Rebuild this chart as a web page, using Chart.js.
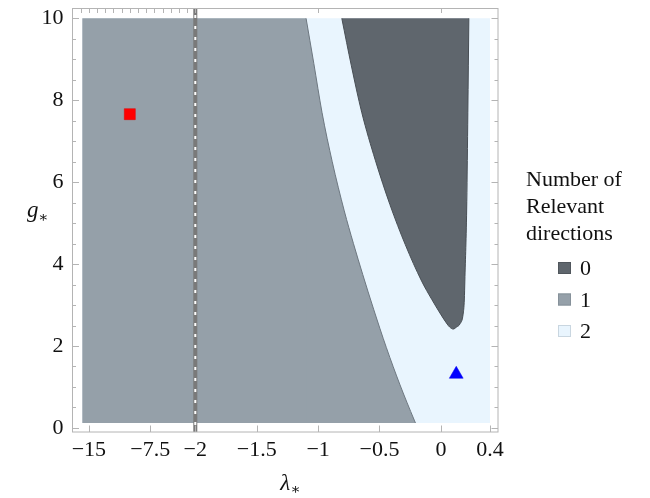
<!DOCTYPE html>
<html lang="en">
<head>
<meta charset="UTF-8">
<title>Number of relevant directions</title>
<script src="https://cdn.jsdelivr.net/npm/chart.js"></script>
<style>
  html, body { margin: 0; padding: 0; background: #fff; }
  #wrap { width: 650px; height: 498px; }
</style>
</head>
<body>
<div id="wrap"><canvas id="phaseChart" width="650" height="498"></canvas></div>
<script>
// tick labels
const lambdaTicks = [-15, -7.5, -2, -1.5, -1, -0.5, 0, 0.4];
const lambdaTopTicks = [-16, -15, -14, -13, -12, -11, -10, -9, -8, -7, -6, -5, -4, -3, -2, -1, 0];
const gTicks = [0, 2, 4, 6, 8, 10];

// extent of the computed region
const lambdaMin = -15.8, lambdaMax = 0.4;
const gMin = 0.12, gMax = 10;

// border between 1 and 2 relevant directions (top to bottom)
const border12Lambda = [-1.098, -1.035, -0.968, -0.885, -0.787, -0.712, -0.637, -0.548, -0.444, -0.333, -0.217, -0.207];
const border12G      = [10.0, 8.9, 7.7, 6.5, 5.3, 4.5, 3.75, 2.9, 1.96, 1.05, 0.19, 0.12];

// border of the region with 0 relevant directions (left branch down, right branch up)
const border0Lambda = [-0.807, -0.729, -0.645, -0.534, -0.415, -0.290, -0.157, -0.075, -0.002, 0.051, 0.0715, 0.100, 0.128, 0.1545, 0.181, 0.191, 0.195, 0.211, 0.2195, 0.2276];
const border0G      = [10.0, 8.84, 7.708, 6.536, 5.452, 4.475, 3.585, 3.141, 2.777, 2.535, 2.462, 2.413, 2.464, 2.535, 2.777, 3.148, 3.585, 5.525, 7.706, 10.0];

// fixed points
const squareLambda = [-10], squareG = [7.66];
const triangleLambda = [0.125], triangleG = [1.31];

// vertical line
const lineLambda = -2;

const legendTitle = ['Number of', 'Relevant', 'directions'];
const legendLabels = ['0', '1', '2'];

const colDark = '#5f666d', colMid = '#95a0a9', colLight = '#e9f5fe';
const serif = "'Liberation Serif', 'DejaVu Serif', serif";

// lambda < -2 is squeezed 15 times
function toAxis(l) { return l < -2 ? -2 + (l + 2) / 15 : l; }
function pts(ls, gs) { return ls.map((l, i) => ({x: toAxis(l), y: gs[i]})); }
function fmt(v) { return String(v).replace('-', '\u2212'); }

const lightRegion = pts([lambdaMin, lambdaMax, lambdaMax, lambdaMin], [gMin, gMin, gMax, gMax]);
// part of region "1" left of the border curve (the rest is filled under the curve)
const midBlock = pts([lambdaMin, lambdaMin, border12Lambda[0], -0.95], [gMin, gMax, gMax, gMin]);
const border12 = pts(border12Lambda, border12G);
const darkRegion = pts(border0Lambda, border0G);

const framePlugin = {
  id: 'frame',
  afterDraw(chart) {
    const {ctx, chartArea: a, scales: {x, y}} = chart;
    ctx.save();
    ctx.strokeStyle = '#b4b4b4';
    ctx.lineWidth = 1;
    ctx.strokeRect(a.left, a.top, a.right - a.left, a.bottom - a.top);
    ctx.beginPath();
    lambdaTicks.forEach(l => {
      const px = Math.round(x.getPixelForValue(toAxis(l))) + 0.5;
      ctx.moveTo(px, a.bottom); ctx.lineTo(px, a.bottom - 6.5);
    });
    lambdaTopTicks.forEach(l => {
      const px = Math.round(x.getPixelForValue(toAxis(l))) + 0.5;
      ctx.moveTo(px, a.top); ctx.lineTo(px, a.top + 4.5);
    });
    for (let g = 0; g <= 10; g += 0.5) {
      const len = g % 2 === 0 ? 6.5 : 3.5;
      const py = Math.round(y.getPixelForValue(g)) + 0.5;
      ctx.moveTo(a.left, py); ctx.lineTo(a.left + len, py);
      ctx.moveTo(a.right, py); ctx.lineTo(a.right - len, py);
    }
    ctx.stroke();

    // axis titles
    ctx.fillStyle = '#111';
    ctx.textBaseline = 'alphabetic';
    ctx.font = 'italic 23px ' + serif;
    const cx = (a.left + a.right) / 2;
    ctx.textAlign = 'right';
    ctx.fillText('\u03bb', cx + 5, 490);
    ctx.font = '15px ' + serif;
    ctx.textAlign = 'left';
    ctx.fillText('\u2217', cx + 5, 494);
    ctx.font = 'italic 23px ' + serif;
    ctx.fillText('g', 27, 217);
    ctx.font = '15px ' + serif;
    ctx.fillText('\u2217', 38, 222);

    // legend
    ctx.font = '22px ' + serif;
    legendTitle.forEach((t, i) => ctx.fillText(t, 526, 186 + i * 27));
    const sw = [colDark, colMid, colLight];
    const br = ['#50565c', '#86919a', '#c9d6e0'];
    legendLabels.forEach((t, i) => {
      const cy = 268 + i * 31.5;
      ctx.fillStyle = sw[i];
      ctx.fillRect(558, cy - 6, 13, 12);
      ctx.strokeStyle = br[i];
      ctx.strokeRect(558.5, cy - 5.5, 12, 11);
      ctx.fillStyle = '#111';
      ctx.fillText(t, 580, cy + 7);
    });
    ctx.restore();
  }
};

new Chart(document.getElementById('phaseChart'), {
  type: 'line',
  data: {
    datasets: [{
      data: pts(squareLambda, squareG),
      showLine: false,
      pointStyle: 'rect',
      pointRadius: 7.8,
      pointBackgroundColor: '#ff0000',
      pointBorderColor: '#e00000',
      pointBorderWidth: 0.5,
      order: 0
    }, {
      data: pts(triangleLambda, triangleG),
      showLine: false,
      pointStyle: 'triangle',
      pointRadius: 8,
      pointBackgroundColor: '#0000ff',
      pointBorderColor: '#0000ee',
      pointBorderWidth: 0.5,
      order: 0
    }, {
      data: pts([lineLambda, lineLambda], [-0.2, 10.4]),
      borderColor: '#ffffff',
      borderWidth: 2,
      borderDash: [3, 8],
      pointRadius: 0,
      order: 1
    }, {
      data: pts([lineLambda, lineLambda], [-0.2, 10.4]),
      borderColor: '#7a7a7a',
      borderWidth: 4,
      pointRadius: 0,
      order: 2
    }, {
      data: darkRegion,
      borderColor: '#484e54',
      borderWidth: 1,
      backgroundColor: colDark,
      fill: 'shape',
      cubicInterpolationMode: 'monotone',
      pointRadius: 0,
      order: 3
    }, {
      data: border12,
      borderColor: '#6d7780',
      borderWidth: 1,
      backgroundColor: colMid,
      fill: { value: gMin },
      cubicInterpolationMode: 'monotone',
      pointRadius: 0,
      order: 4
    }, {
      data: midBlock,
      borderColor: 'rgba(0,0,0,0)',
      backgroundColor: colMid,
      fill: 'shape',
      pointRadius: 0,
      order: 5
    }, {
      data: lightRegion,
      borderColor: 'rgba(0,0,0,0)',
      backgroundColor: colLight,
      fill: 'shape',
      pointRadius: 0,
      order: 6
    }]
  },
  options: {
    responsive: false,
    animation: false,
    events: [],
    layout: { padding: { left: 0, right: 152, top: 5.5, bottom: 0 } },
    plugins: { legend: { display: false }, tooltip: { enabled: false } },
    scales: {
      x: {
        type: 'linear',
        min: -3.0,
        max: 0.465,
        grid: { display: false, drawTicks: false },
        border: { display: false },
        afterBuildTicks: s => { s.ticks = lambdaTicks.map(l => ({value: toAxis(l)})); },
        afterFit: s => { s.height = 66; s.paddingLeft = 0; s.paddingRight = 0; },
        ticks: {
          autoSkip: false,
          maxRotation: 0,
          minRotation: 0,
          padding: 5,
          color: '#111',
          font: { family: serif, size: 22 },
          callback: (v, i) => fmt(lambdaTicks[i])
        }
      },
      y: {
        type: 'linear',
        min: -0.1,
        max: 10.24,
        grid: { display: false, drawTicks: false },
        border: { display: false },
        afterBuildTicks: s => { s.ticks = gTicks.map(g => ({value: g})); },
        afterFit: s => { s.width = 72.5; s.paddingTop = 0; s.paddingBottom = 0; },
        ticks: {
          padding: 9,
          color: '#111',
          font: { family: serif, size: 22 },
          callback: (v, i) => fmt(gTicks[i])
        }
      }
    }
  },
  plugins: [framePlugin]
});
</script>
</body>
</html>
